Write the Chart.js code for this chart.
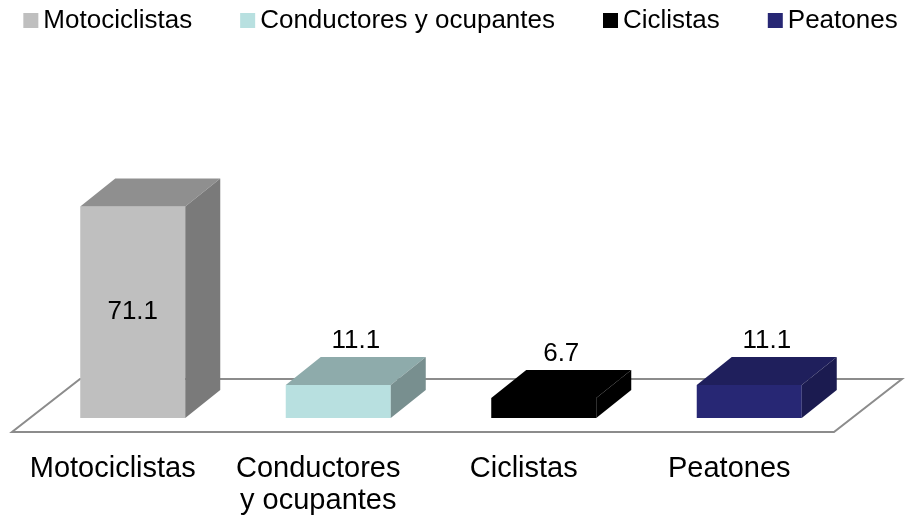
<!DOCTYPE html>
<html>
<head>
<meta charset="utf-8">
<script src="https://cdn.jsdelivr.net/npm/chart.js@4.4.1/dist/chart.umd.min.js"></script>
<style>
  html, body { margin: 0; padding: 0; background: #fff; }
</style>
</head>
<body>
<canvas id="victimChart" width="921" height="515"></canvas>
<script>
// Data
const categories = ['Motociclistas', 'Conductores y ocupantes', 'Ciclistas', 'Peatones'];
const axisLabels = ['Motociclistas', ['Conductores', 'y ocupantes'], 'Ciclistas', 'Peatones'];
const percentages = [71.1, 11.1, 6.7, 11.1];

// Colours for the three visible faces of each box
const frontColors = ['#bfbfbf', '#b8e0e0', '#000000', '#272774'];
const topColors = ['#8f8f8f', '#8eabab', '#000000', '#1f1f5c'];
const sideColors = ['#7a7a7a', '#788f8f', '#000000', '#1b1b50'];

const FONT = '"Liberation Sans", Arial, sans-serif';
const depth = { dx: 35, dy: 28 };        // bar depth
const floorFront = { dx: -18, dy: 14 };  // floor front edge relative to bar front plane
const floorBack = { dx: 50, dy: -39 };   // floor back edge

// Floor parallelogram, drawn before the bars
const floorPlugin = {
  id: 'floor',
  beforeDatasetsDraw(chart) {
    const { ctx, chartArea } = chart;
    const y0 = chart.scales.y.getPixelForValue(0);
    const l = chartArea.left, r = chartArea.right;
    ctx.save();
    ctx.strokeStyle = '#8c8c8c';
    ctx.lineWidth = 2;
    ctx.beginPath();
    ctx.moveTo(l + floorFront.dx, y0 + floorFront.dy);
    ctx.lineTo(r + floorFront.dx, y0 + floorFront.dy);
    ctx.lineTo(r + floorBack.dx, y0 + floorBack.dy);
    ctx.lineTo(l + floorBack.dx, y0 + floorBack.dy);
    ctx.closePath();
    ctx.stroke();
    ctx.restore();
  }
};

// Top and side faces + value labels
const boxPlugin = {
  id: 'box3d',
  afterDatasetsDraw(chart) {
    const { ctx, chartArea } = chart;
    const bars = chart.getDatasetMeta(0).data;
    ctx.save();
    bars.forEach((bar, i) => {
      const { x, y, base, width } = bar.getProps(['x', 'y', 'base', 'width'], true);
      const left = x - width / 2, right = x + width / 2;

      ctx.fillStyle = topColors[i];
      ctx.beginPath();
      ctx.moveTo(left, y);
      ctx.lineTo(right, y);
      ctx.lineTo(right + depth.dx, y - depth.dy);
      ctx.lineTo(left + depth.dx, y - depth.dy);
      ctx.closePath();
      ctx.fill();

      ctx.fillStyle = sideColors[i];
      ctx.beginPath();
      ctx.moveTo(right, y);
      ctx.lineTo(right + depth.dx, y - depth.dy);
      ctx.lineTo(right + depth.dx, base - depth.dy);
      ctx.lineTo(right, base);
      ctx.closePath();
      ctx.fill();

      // value label: above the box, or inside the front when there is no room
      ctx.font = '26px ' + FONT;
      ctx.fillStyle = '#000';
      ctx.textAlign = 'center';
      const text = percentages[i].toFixed(1);
      const aboveY = y - depth.dy - 9;
      if (aboveY - 20 < chartArea.top) {
        ctx.textBaseline = 'middle';
        ctx.fillText(text, x, (y + base) / 2);
      } else {
        ctx.textBaseline = 'alphabetic';
        ctx.fillText(text, x + depth.dx / 2, aboveY);
      }
    });
    ctx.restore();
  }
};

// Legend row across the top
const legendPlugin = {
  id: 'topLegend',
  afterDraw(chart) {
    const ctx = chart.ctx;
    ctx.save();
    ctx.font = '26px ' + FONT;
    ctx.textBaseline = 'middle';
    ctx.textAlign = 'left';
    const box = 15, gap = 5, spacing = 48;
    const widths = categories.map(c => ctx.measureText(c).width);
    const total = widths.reduce((s, w) => s + box + gap + w, 0) + spacing * (categories.length - 1);
    let x = (chart.width - total) / 2;
    categories.forEach((c, i) => {
      ctx.fillStyle = frontColors[i];
      ctx.fillRect(x, 13, box, box);
      ctx.fillStyle = '#000';
      ctx.fillText(c, x + box + gap, 21);
      x += box + gap + widths[i] + spacing;
    });
    ctx.restore();
  }
};

const ctx = document.getElementById('victimChart').getContext('2d');
new Chart(ctx, {
  type: 'bar',
  data: {
    labels: axisLabels,
    datasets: [{
      data: percentages,
      backgroundColor: frontColors,
      borderWidth: 0,
      barPercentage: 0.511,
      categoryPercentage: 1
    }]
  },
  options: {
    responsive: false,
    animation: false,
    layout: { padding: { top: 180, bottom: 0, left: 30, right: 69 } },
    plugins: {
      legend: { display: false },
      tooltip: { enabled: false }
    },
    scales: {
      x: {
        grid: { display: false },
        border: { display: false },
        afterFit(scale) {
          scale.height = 97;
        },
        ticks: {
          color: '#000',
          padding: 27,
          labelOffset: -20,
          maxRotation: 0,
          autoSkip: false,
          font: { family: FONT, size: 29, lineHeight: 1.1 }
        }
      },
      y: {
        display: false,
        min: 0,
        max: 80
      }
    }
  },
  plugins: [floorPlugin, boxPlugin, legendPlugin]
});
</script>
</body>
</html>
